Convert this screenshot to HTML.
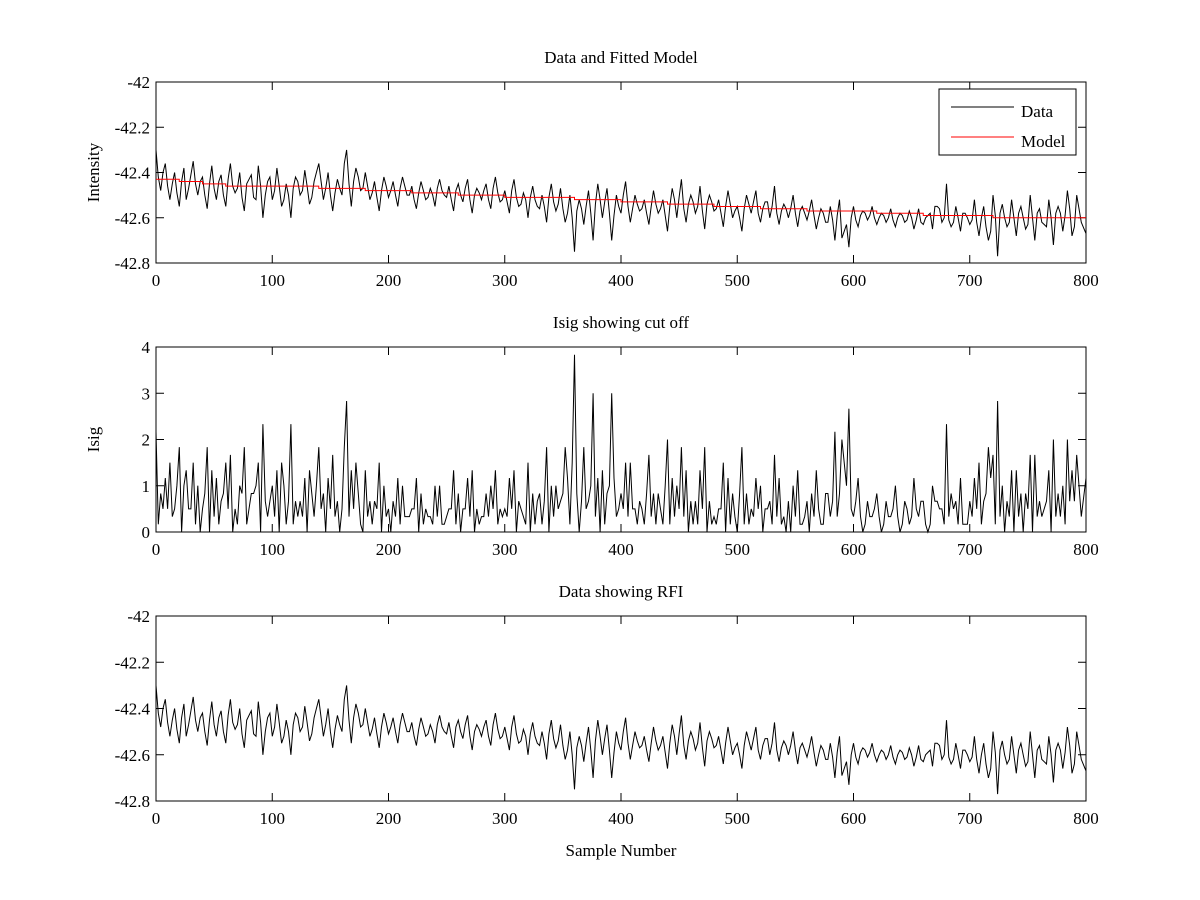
<!DOCTYPE html>
<html><head><meta charset="utf-8"><style>
body{margin:0;background:#fff}
svg{display:block;font-family:"Liberation Serif",serif}
text{font-size:17px;fill:#000}
</style></head><body>
<svg id="fig" width="1200" height="900"></svg>
<script>
const dataVals=[-42.30,-42.48,-42.36,-42.52,-42.40,-42.55,-42.38,-42.47,-42.35,-42.50,-42.42,-42.56,-42.37,-42.52,-42.41,-42.55,-42.36,-42.49,-42.40,-42.57,-42.43,-42.51,-42.37,-42.60,-42.44,-42.52,-42.38,-42.55,-42.45,-42.60,-42.42,-42.50,-42.39,-42.54,-42.44,-42.36,-42.52,-42.40,-42.57,-42.43,-42.50,-42.30,-42.55,-42.38,-42.48,-42.40,-42.52,-42.44,-42.57,-42.42,-42.51,-42.44,-42.55,-42.42,-42.50,-42.46,-42.56,-42.44,-42.52,-42.47,-42.55,-42.43,-42.50,-42.46,-42.57,-42.45,-42.53,-42.43,-42.58,-42.47,-42.52,-42.45,-42.56,-42.42,-42.53,-42.48,-42.58,-42.43,-42.55,-42.49,-42.60,-42.46,-42.55,-42.50,-42.62,-42.45,-42.57,-42.47,-42.62,-42.50,-42.75,-42.52,-42.63,-42.48,-42.70,-42.45,-42.60,-42.47,-42.70,-42.50,-42.58,-42.44,-42.62,-42.50,-42.57,-42.52,-42.63,-42.48,-42.58,-42.52,-42.66,-42.47,-42.60,-42.43,-42.62,-42.50,-42.58,-42.46,-42.65,-42.50,-42.57,-42.52,-42.64,-42.48,-42.60,-42.55,-42.66,-42.50,-42.58,-42.48,-42.62,-42.53,-42.60,-42.46,-42.63,-42.54,-42.60,-42.50,-42.64,-42.55,-42.61,-42.52,-42.65,-42.56,-42.62,-42.55,-42.70,-42.52,-42.66,-42.73,-42.55,-42.64,-42.57,-42.61,-42.55,-42.63,-42.58,-42.62,-42.56,-42.64,-42.58,-42.62,-42.57,-42.65,-42.56,-42.63,-42.59,-42.65,-42.55,-42.62,-42.45,-42.64,-42.55,-42.66,-42.58,-42.63,-42.52,-42.68,-42.55,-42.70,-42.50,-42.77,-42.54,-42.64,-42.52,-42.68,-42.55,-42.65,-42.50,-42.70,-42.56,-42.63,-42.52,-42.72,-42.55,-42.66,-42.48,-42.68,-42.50,-42.62,-42.67];
const midVals=[-42.42,-42.40,-42.46,-42.45,-42.49,-42.44,-42.52,-42.41,-42.45,-42.44,-42.50,-42.45,-42.47,-42.44,-42.50,-42.43,-42.46,-42.47,-42.51,-42.45,-42.41,-42.52,-42.46,-42.50,-42.42,-42.48,-42.46,-42.52,-42.50,-42.47,-42.44,-42.48,-42.46,-42.51,-42.40,-42.44,-42.47,-42.50,-42.49,-42.47,-42.36,-42.45,-42.44,-42.42,-42.47,-42.46,-42.49,-42.51,-42.48,-42.46,-42.48,-42.50,-42.47,-42.46,-42.50,-42.52,-42.49,-42.48,-42.51,-42.50,-42.47,-42.48,-42.51,-42.52,-42.48,-42.50,-42.47,-42.52,-42.50,-42.49,-42.48,-42.52,-42.47,-42.49,-42.52,-42.53,-42.48,-42.51,-42.54,-42.52,-42.51,-42.52,-42.56,-42.55,-42.51,-42.53,-42.54,-42.56,-42.58,-42.60,-42.57,-42.56,-42.55,-42.58,-42.54,-42.52,-42.53,-42.58,-42.59,-42.55,-42.50,-42.55,-42.56,-42.54,-42.56,-42.58,-42.55,-42.54,-42.56,-42.59,-42.55,-42.52,-42.51,-42.56,-42.54,-42.53,-42.55,-42.57,-42.54,-42.53,-42.56,-42.58,-42.55,-42.54,-42.57,-42.60,-42.56,-42.54,-42.53,-42.58,-42.56,-42.53,-42.55,-42.58,-42.57,-42.56,-42.56,-42.58,-42.57,-42.58,-42.57,-42.59,-42.60,-42.58,-42.62,-42.61,-42.59,-42.69,-42.63,-42.60,-42.61,-42.59,-42.58,-42.59,-42.60,-42.60,-42.59,-42.60,-42.61,-42.60,-42.59,-42.61,-42.60,-42.61,-42.62,-42.60,-42.58,-42.55,-42.56,-42.60,-42.61,-42.62,-42.60,-42.58,-42.60,-42.61,-42.62,-42.60,-42.64,-42.66,-42.59,-42.58,-42.60,-42.62,-42.60,-42.58,-42.60,-42.63,-42.60,-42.58,-42.62,-42.64,-42.60,-42.58,-42.58,-42.59,-42.56,-42.64];
const dataStep=4;
const modelVals=[-42.43,-42.44,-42.45,-42.46,-42.46,-42.46,-42.46,-42.47,-42.47,-42.48,-42.48,-42.49,-42.49,-42.50,-42.50,-42.51,-42.51,-42.51,-42.52,-42.52,-42.53,-42.53,-42.54,-42.54,-42.55,-42.55,-42.56,-42.56,-42.57,-42.57,-42.57,-42.58,-42.58,-42.59,-42.59,-42.59,-42.60,-42.60,-42.60,-42.60,-42.60];
const modelStep=20;
const isigSigma=0.06;
const xTicks=[0,100,200,300,400,500,600,700,800];
const intTicks=[-42,-42.2,-42.4,-42.6,-42.8];
const isigTicks=[0,1,2,3,4];

const NS="http://www.w3.org/2000/svg";
const svg=document.getElementById('fig');
function el(tag,attrs,parent){const e=document.createElementNS(NS,tag);for(const k in attrs)e.setAttribute(k,attrs[k]);(parent||svg).appendChild(e);return e;}
const X0=156,X1=1086;
const xs=v=>X0+(v/800)*(X1-X0);
function modelAt(i){return modelVals[Math.min(modelVals.length-1,Math.floor(i/modelStep))];}
// merge samples: dataVals at multiples of 4, midVals at 4k+2
const pts=[];
dataVals.forEach((v,k)=>{pts.push([k*dataStep,v]);if(k<midVals.length)pts.push([k*dataStep+dataStep/2,midVals[k]]);});
const isigPts=pts.map(p=>[p[0],Math.abs(p[1]-modelAt(p[0]))/isigSigma]);

function axes(name,top,bot,ymin,ymax,yt,title,ylabel){
  const g=el('g',{});
  
  
  const ys=v=>bot-(v-ymin)/(ymax-ymin)*(bot-top);
  const fr=el('rect',{x:X0,y:top,width:X1-X0,height:bot-top,fill:'#fff',stroke:'#000','stroke-width':1},g);
  
  
  xTicks.forEach(t=>{const x=xs(t);
    el('line',{x1:x,x2:x,y1:bot,y2:bot-8,stroke:'#000'},g);
    el('line',{x1:x,x2:x,y1:top,y2:top+8,stroke:'#000'},g);
    const tx=el('text',{x:x,y:bot+23,'text-anchor':'middle'},g);tx.textContent=t;
    
    
  });
  yt.forEach(t=>{const y=ys(t);
    el('line',{x1:X0,x2:X0+8,y1:y,y2:y,stroke:'#000'},g);
    el('line',{x1:X1,x2:X1-8,y1:y,y2:y,stroke:'#000'},g);
    const tx=el('text',{x:X0-6,y:y+6,'text-anchor':'end'},g);tx.textContent=String(t);
    
    
  });
  const tt=el('text',{x:(X0+X1)/2,y:top-19,'text-anchor':'middle'},g);tt.textContent=title;
  
  
  if(ylabel){const yl=el('text',{x:0,y:0,'text-anchor':'middle',transform:`translate(${X0-57},${(top+bot)/2}) rotate(-90)`},g);yl.textContent=ylabel;
    
    }
  return {g,ys};
}
function line(g,points,ys,color,name){
  let d='';
  points.forEach((p,i)=>{d+=(i?'L':'M')+xs(p[0]).toFixed(1)+','+ys(p[1]).toFixed(1);});
  const p=el('path',{d:d,fill:'none',stroke:color,'stroke-width':1},g);
  
  
}
function stepLine(g,vals,step,ys,color,name){
  let d='';
  vals.forEach((v,i)=>{const y=ys(v);d+=(i?'L':'M')+xs(i*step)+','+y+'L'+xs(Math.min(800,(i+1)*step))+','+y;});
  const p=el('path',{d:d,fill:'none',stroke:color,'stroke-width':1},g);
  
  
}
const a1=axes('intensity-axes',82,263,-42.8,-42,intTicks,'Data and Fitted Model','Intensity');
line(a1.g,pts,a1.ys,'#000','data-line');
stepLine(a1.g,modelVals,modelStep,a1.ys,'#f00','model-line');
const lg=el('g',{});


el('rect',{x:939,y:89,width:137,height:66,fill:'#fff',stroke:'#000'},lg);
el('line',{x1:951,x2:1014,y1:107,y2:107,stroke:'#000'},lg);
el('line',{x1:951,x2:1014,y1:137,y2:137,stroke:'#f00'},lg);
const t1=el('text',{x:1021,y:117},lg);t1.textContent='Data';


const t2=el('text',{x:1021,y:147},lg);t2.textContent='Model';



const a2=axes('isig-axes',347,532,0,4,isigTicks,'Isig showing cut off','Isig');
line(a2.g,isigPts,a2.ys,'#000','isig-line');

const a3=axes('rfi-axes',616,801,-42.8,-42,intTicks,'Data showing RFI','');
line(a3.g,pts,a3.ys,'#000','rfi-data-line');
const xl=el('text',{x:(X0+X1)/2,y:856,'text-anchor':'middle'});xl.textContent='Sample Number';


</script>
</body></html>
